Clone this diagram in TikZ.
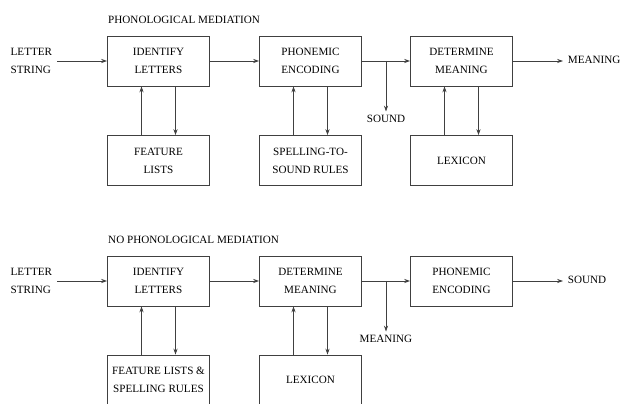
\documentclass[tikz,border=0pt]{standalone}
\usepackage{fontspec}
\setmainfont{Liberation Serif}
\usetikzlibrary{arrows.meta}

\tikzset{
  stage/.style={draw=black!75, line width=0.7pt, minimum width=3.06cm,
    minimum height=1.5cm, align=center, inner sep=0pt},
  flow/.style={-{Stealth[length=5pt,width=3.5pt]}, line width=0.7pt, black!75},
  lbl/.style={align=left, inner sep=4pt}
}

\begin{document}
\begin{tikzpicture}[x=0.03cm, y=-0.03cm, font=\fontsize{9.5}{15.3}\selectfont]
  \clip (0,0) rectangle (621,404);
  % phonological mediation
  \node[anchor=west, inner sep=0pt] (ttl1) at (108,20) {PHONOLOGICAL MEDIATION};
  \node[lbl, anchor=east] (ls1) at (57,61) {LETTER\\STRING};
  \node[stage] (id1) at (158.5,61) {IDENTIFY\\LETTERS};
  \node[stage] (pe1) at (310.5,61) {PHONEMIC\\ENCODING};
  \node[stage] (dm1) at (461.5,61) {DETERMINE\\MEANING};
  \node[lbl, anchor=west] (mn1) at (563,60) {MEANING};
  \node[stage] (fl1) at (158.5,160.5) {FEATURE\\LISTS};
  \node[stage] (sr1) at (310.5,160.5) {SPELLING-TO-\\SOUND RULES};
  \node[stage] (lx1) at (461.5,160.5) {LEXICON};
  \node[inner sep=3pt] (snd1) at (386,119) {SOUND};
  \coordinate (br1) at (pe1.east -| snd1);

  \draw[flow] (ls1) -- (id1);
  \draw[flow] (id1) -- (pe1);
  \draw[flow] (pe1) -- (dm1);
  \draw[flow] (dm1.east) -- (mn1.west |- dm1.east);
  \draw[flow] (br1) -- (snd1);
  \foreach \up/\lo in {id1/fl1, pe1/sr1, dm1/lx1} {
    \draw[flow] ([xshift=-0.51cm]\lo.north) -- ([xshift=-0.51cm]\up.south);
    \draw[flow] ([xshift=0.51cm]\up.south) -- ([xshift=0.51cm]\lo.north);
  }

  % no phonological mediation
  \node[anchor=west, inner sep=0pt] (ttl2) at (108,240) {NO PHONOLOGICAL MEDIATION};
  \node[lbl, anchor=east] (ls2) at (57,281) {LETTER\\STRING};
  \node[stage] (id2) at (158.5,281) {IDENTIFY\\LETTERS};
  \node[stage] (dm2) at (310.5,281) {DETERMINE\\MEANING};
  \node[stage] (pe2) at (461.5,281) {PHONEMIC\\ENCODING};
  \node[lbl, anchor=west] (snd2) at (563,280) {SOUND};
  \node[stage] (fl2) at (158.5,380) {FEATURE LISTS \&\\SPELLING RULES};
  \node[stage] (lx2) at (310.5,380) {LEXICON};
  \node[inner sep=3pt] (mn2) at (386,339) {MEANING};
  \coordinate (br2) at (dm2.east -| mn2);

  \draw[flow] (ls2) -- (id2);
  \draw[flow] (id2) -- (dm2);
  \draw[flow] (dm2) -- (pe2);
  \draw[flow] (pe2.east) -- (snd2.west |- pe2.east);
  \draw[flow] (br2) -- (mn2);
  \foreach \up/\lo in {id2/fl2, dm2/lx2} {
    \draw[flow] ([xshift=-0.51cm]\lo.north) -- ([xshift=-0.51cm]\up.south);
    \draw[flow] ([xshift=0.51cm]\up.south) -- ([xshift=0.51cm]\lo.north);
  }
\end{tikzpicture}
\end{document}
